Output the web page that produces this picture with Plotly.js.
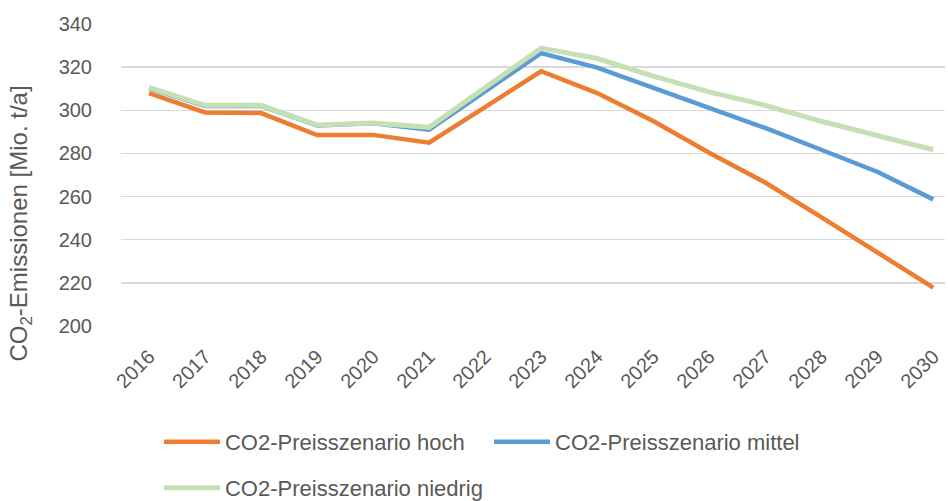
<!DOCTYPE html>
<html>
<head>
<meta charset="utf-8">
<script src="https://cdn.plot.ly/plotly-3.0.1.min.js"></script>
<style>html,body{margin:0;padding:0;background:#fff;}#chart{width:948px;height:501px;}</style>
</head>
<body>
<div id="chart"></div>
<script>
var years = ['2016','2017','2018','2019','2020','2021','2022','2023','2024','2025','2026','2027','2028','2029','2030'];
var hoch    = [308, 299, 298.7, 288.5, 288.6, 285, 301.5, 318.1, 308, 295, 280.3, 266.5, 250.5, 234.2, 217.8];
var mittel  = [310.3, 302, 302, 293, 294, 291, 308.8, 326.5, 319.8, 310.4, 301, 291.8, 281.7, 271.5, 258.7];
var niedrig = [310.6, 302.3, 302.3, 293.2, 294.1, 292.1, 310.5, 328.8, 324, 315.8, 308.5, 302.3, 294.9, 288, 281.7];
var seriesNames = ['CO2-Preisszenario hoch', 'CO2-Preisszenario mittel', 'CO2-Preisszenario niedrig'];
var yTicks = [200, 220, 240, 260, 280, 300, 320, 340];

var txt = '#595959';
var fam = 'Liberation Sans, Arial, sans-serif';

var traces = [
  {x: years, y: hoch, name: seriesNames[0], type: 'scatter', mode: 'lines',
   line: {color: '#ED7D31', width: 4.5}, legend: 'legend'},
  {x: years, y: mittel, name: seriesNames[1], type: 'scatter', mode: 'lines',
   line: {color: '#5B9BD5', width: 4.5}, legend: 'legend2'},
  {x: years, y: niedrig, name: seriesNames[2], type: 'scatter', mode: 'lines',
   line: {color: '#C5E0B4', width: 5}, legend: 'legend3'}
];

function leg(x, y) {
  return {x: x, y: y, xanchor: 'left', yanchor: 'middle', orientation: 'h',
    font: {family: fam, size: 22, color: txt}, bgcolor: 'rgba(0,0,0,0)',
    borderwidth: 0, itemwidth: 56, traceorder: 'normal'};
}

var layout = {
  width: 948, height: 501,
  margin: {l: 121, r: 3, t: 24, b: 175, autoexpand: false},
  paper_bgcolor: '#ffffff', plot_bgcolor: '#ffffff',
  font: {family: fam, color: txt},
  showlegend: true,
  xaxis: {
    type: 'category', range: [-0.5, 14.21],
    tickangle: -45, tickfont: {family: fam, size: 20, color: txt},
    showgrid: false, zeroline: false, showline: false, ticks: '', ticklabelstandoff: 14, fixedrange: true
  },
  yaxis: {
    range: [200, 340], tickvals: yTicks, ticktext: yTicks.map(String),
    tickfont: {family: fam, size: 20, color: txt},
    showgrid: true, gridcolor: '#d9d9d9', gridwidth: 1.3,
    zeroline: false, showline: false, ticks: '', ticklabelstandoff: 28, fixedrange: true
  },
  legend: leg(0.0461, -0.384),
  legend2: leg(0.4466, -0.384),
  legend3: leg(0.0461, -0.536),
  annotations: [{
    text: 'CO<sub>2</sub>-Emissionen [Mio. t/a]', xref: 'paper', yref: 'paper',
    x: -0.122, y: 0.341, xanchor: 'center', yanchor: 'middle', textangle: -90,
    showarrow: false, font: {family: fam, size: 24, color: txt}
  }]
};

Plotly.newPlot('chart', traces, layout, {displayModeBar: false, staticPlot: true});
</script>
</body>
</html>
